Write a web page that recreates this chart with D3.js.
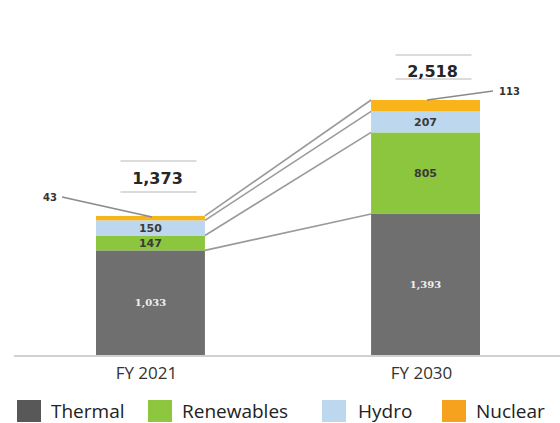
<!DOCTYPE html>
<html>
<head>
<meta charset="utf-8">
<script src="https://cdn.jsdelivr.net/npm/d3@7"></script>
<style>
  body { margin: 0; background: #fff; }
  svg { display: block; }
</style>
</head>
<body>
<svg id="chart" width="560" height="423"></svg>
<script>
// data
const years = ["FY 2021", "FY 2030"];
const sources = ["Thermal", "Renewables", "Hydro", "Nuclear"];
const thermal = [1033, 1393];
const renewables = [147, 805];
const hydro = [150, 207];
const nuclear = [43, 113];
const totalLabels = ["1,373", "2,518"];
const valueLabels = [["1,033", "147", "150", "43"], ["1,393", "805", "207", "113"]];

const barColors = ["#6f6f6f", "#8cc63f", "#bdd7ee", "#f9b41a"];
const legendColors = ["#585858", "#8dc63f", "#bdd7ee", "#f6a21e"];

const svg = d3.select("#chart");

const x = d3.scaleBand().domain(years).range([96, 480]).paddingInner(0.604).paddingOuter(0);
const y = d3.scaleLinear().domain([0, 2518]).range([355, 100]);

// stack rows
const rows = years.map((yr, i) => ({
  year: yr, Thermal: thermal[i], Renewables: renewables[i], Hydro: hydro[i], Nuclear: nuclear[i]
}));
const stack = d3.stack().keys(sources)(rows);

// baseline
svg.append("line")
  .attr("x1", 14).attr("x2", 560)
  .attr("y1", y(0) + 1).attr("y2", y(0) + 1)
  .attr("stroke", "#d0d0d0").attr("stroke-width", 2);

// connectors between the two bars (top of each segment)
const g = svg.append("g");
stack.forEach(layer => {
  g.append("line")
    .attr("x1", x(years[0]) + x.bandwidth())
    .attr("y1", y(layer[0][1]))
    .attr("x2", x(years[1]))
    .attr("y2", y(layer[1][1]))
    .attr("stroke", "#9a9a9a")
    .attr("stroke-width", 1.6);
});

// bars
stack.forEach((layer, k) => {
  svg.append("g").selectAll("rect")
    .data(layer)
    .join("rect")
    .attr("x", d => x(d.data.year))
    .attr("y", d => y(d[1]))
    .attr("width", x.bandwidth())
    .attr("height", d => y(d[0]) - y(d[1]))
    .attr("fill", barColors[k]);
});

// values inside segments (skip nuclear, labelled outside)
stack.forEach((layer, k) => {
  if (k === 3) return;
  layer.forEach((d, i) => {
    const t = svg.append("text")
      .attr("x", x(d.data.year) + x.bandwidth() / 2)
      .attr("y", (y(d[0]) + y(d[1])) / 2)
      .attr("dy", "0.36em")
      .attr("text-anchor", "middle")
      .text(valueLabels[i][k]);
    if (k === 0) {
      t.attr("font-family", "DejaVu Serif").attr("font-weight", "bold")
        .attr("font-size", 10).attr("fill", "#f0f0f0");
    } else {
      t.attr("font-family", "DejaVu Sans").attr("font-weight", "bold")
        .attr("font-size", 11).attr("fill", "#3a3a3a");
    }
  });
});

// nuclear callouts
const nuc = stack[3];
const call = [
  { from: [x(years[0]) + 56, y(nuc[0][1]) + 1], to: [62, 197], tx: 57, anchor: "end" },
  { from: [x(years[1]) + 56, y(nuc[1][1])], to: [493, 91], tx: 499, anchor: "start" }
];
call.forEach((c, i) => {
  svg.append("line")
    .attr("x1", c.from[0]).attr("y1", c.from[1])
    .attr("x2", c.to[0]).attr("y2", c.to[1])
    .attr("stroke", "#8a8a8a").attr("stroke-width", 1.6);
  svg.append("text")
    .attr("x", c.tx).attr("y", c.to[1]).attr("dy", "0.36em")
    .attr("text-anchor", c.anchor)
    .attr("font-family", "DejaVu Sans").attr("font-weight", "bold")
    .attr("font-size", 10).attr("fill", "#333")
    .text(valueLabels[i][3]);
});

// totals with rules
const boxes = [{ top: 161, bottom: 192, cy: 178 }, { top: 55, bottom: 79, cy: 71 }];
years.forEach((yr, i) => {
  const cx = x(yr) + x.bandwidth() / 2 + 8;
  const b = boxes[i];
  [b.top, b.bottom].forEach(yy => {
    svg.append("line")
      .attr("x1", cx - 38).attr("x2", cx + 38)
      .attr("y1", yy).attr("y2", yy)
      .attr("stroke", "#cfcfcf").attr("stroke-width", 1.5);
  });
  svg.append("text")
    .attr("x", cx - 1).attr("y", b.cy).attr("dy", "0.36em")
    .attr("text-anchor", "middle")
    .attr("font-family", "DejaVu Sans").attr("font-weight", "bold")
    .attr("font-size", 16).attr("fill", "#262626")
    .text(totalLabels[i]);
});

// x axis labels
svg.append("g").selectAll("text")
  .data(years)
  .join("text")
  .attr("x", d => x(d) + x.bandwidth() / 2 - 4)
  .attr("y", 379)
  .attr("text-anchor", "middle")
  .attr("font-family", "Open Sans")
  .attr("font-size", 17)
  .attr("fill", "#333")
  .text(d => d);

// legend
const legX = [17, 148, 322, 442];
const leg = svg.append("g").selectAll("g")
  .data(sources)
  .join("g")
  .attr("transform", (d, i) => `translate(${legX[i]},400)`);
leg.append("rect")
  .attr("width", 24).attr("height", 22)
  .attr("fill", (d, i) => legendColors[i]);
leg.append("text")
  .attr("x", (d, i) => i === 2 ? 36 : 34)
  .attr("y", 18)
  .attr("font-family", "Open Sans")
  .attr("font-size", 19)
  .attr("fill", "#222")
  .text(d => d);
</script>
</body>
</html>
